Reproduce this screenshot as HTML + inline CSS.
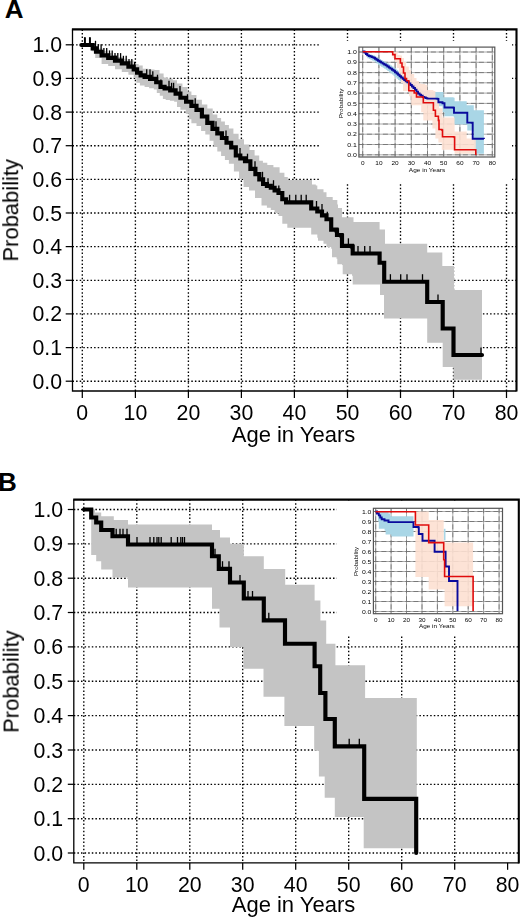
<!DOCTYPE html>
<html><head><meta charset="utf-8"><title>Figure</title>
<style>
html,body{margin:0;padding:0;background:#fff}
body{width:520px;height:918px;overflow:hidden}
svg{display:block;font-family:"Liberation Sans",Arial,sans-serif}
.grid line{stroke:#000;stroke-width:1.35;stroke-dasharray:1.5 2.1}
.tk line{stroke:#000;stroke-width:1.25}
.fr1{fill:none;stroke:#000;stroke-width:1.3}
.fr2{fill:none;stroke:#000;stroke-width:2.1}
.tl text{font-size:21.3px;fill:#000}
.al{font-size:22px;fill:#000}
.pl{font-size:26px;font-weight:bold;fill:#000}
.band{fill:#c4c4c4}
.km{fill:none;stroke:#000;stroke-width:4.15;stroke-linejoin:miter;stroke-linecap:round}
.cn line{stroke:#000;stroke-width:1.3}
.ig line{stroke:#969696;stroke-width:.8}
.ig2 line{stroke:#6c6c6c;stroke-width:.8;stroke-dasharray:5 3}
.ifr{fill:none;stroke:#555;stroke-width:1.2}
.bci{fill:#a9d6e6}
.rci{fill:#fde0d2;fill-opacity:.9}
.bl{fill:none;stroke:#0a0a9c;stroke-width:1.9}
.rd{fill:none;stroke:#e00c0c;stroke-width:1.6}
.il text{fill:#000}
</style></head><body>
<svg width="520" height="918" viewBox="0 0 520 918">
<rect width="520" height="918" fill="#fff"/>
<!-- Panel A -->
<g opacity=".999"><text class="pl" x="4.7" y="17.9">A</text></g>
<g class="grid"><line x1="82.3" y1="29.4" x2="82.3" y2="391.0"/><line x1="135.4" y1="29.4" x2="135.4" y2="391.0"/><line x1="188.4" y1="29.4" x2="188.4" y2="391.0"/><line x1="241.4" y1="29.4" x2="241.4" y2="391.0"/><line x1="294.4" y1="29.4" x2="294.4" y2="391.0"/><line x1="347.5" y1="29.4" x2="347.5" y2="391.0"/><line x1="400.5" y1="29.4" x2="400.5" y2="391.0"/><line x1="453.5" y1="29.4" x2="453.5" y2="391.0"/><line x1="506.5" y1="29.4" x2="506.5" y2="391.0"/><line x1="72.5" y1="44.8" x2="516.5" y2="44.8"/><line x1="72.5" y1="78.4" x2="516.5" y2="78.4"/><line x1="72.5" y1="112.1" x2="516.5" y2="112.1"/><line x1="72.5" y1="145.7" x2="516.5" y2="145.7"/><line x1="72.5" y1="179.4" x2="516.5" y2="179.4"/><line x1="72.5" y1="213.0" x2="516.5" y2="213.0"/><line x1="72.5" y1="246.6" x2="516.5" y2="246.6"/><line x1="72.5" y1="280.3" x2="516.5" y2="280.3"/><line x1="72.5" y1="313.9" x2="516.5" y2="313.9"/><line x1="72.5" y1="347.6" x2="516.5" y2="347.6"/><line x1="72.5" y1="381.2" x2="516.5" y2="381.2"/></g>
<polygon class="band" points="91.5,45.0 93.6,45.0 93.6,46.8 95.8,46.8 97.9,46.8 97.9,48.5 100.0,48.5 102.5,48.5 102.5,50.8 105.0,50.8 107.5,50.8 107.5,53.0 110.0,53.0 112.5,53.0 112.5,55.0 115.0,55.0 117.5,55.0 117.5,57.0 120.0,57.0 122.5,57.0 122.5,58.8 125.0,58.8 127.5,58.8 127.5,60.5 130.0,60.5 133.6,60.5 133.6,63.9 137.2,63.9 138.6,63.9 138.6,65.4 140.0,65.4 142.7,65.4 142.7,68.7 145.4,68.7 148.4,68.7 148.4,69.4 151.4,69.4 154.5,69.4 154.5,70.1 157.5,70.1 159.5,70.1 159.5,73.5 161.5,73.5 163.6,73.5 163.6,77.5 165.6,77.5 167.9,77.5 167.9,78.8 170.3,78.8 172.7,78.8 172.7,80.2 175.0,80.2 177.0,80.2 177.0,83.6 179.0,83.6 182.4,83.6 182.4,86.9 185.8,86.9 187.4,86.9 187.4,91.6 189.1,91.6 191.4,91.6 191.4,95.0 193.8,95.0 196.5,95.0 196.5,99.7 199.2,99.7 201.9,99.7 201.9,104.4 204.6,104.4 207.3,104.4 207.3,108.5 210.0,108.5 212.7,108.5 212.7,114.6 215.4,114.6 217.3,114.6 217.3,118.0 219.2,118.0 221.1,118.0 221.1,121.5 223.0,121.5 224.9,121.5 224.9,125.0 226.9,125.0 228.9,125.0 228.9,128.5 230.8,128.5 233.4,128.5 233.4,133.8 236.0,133.8 238.6,133.8 238.6,139.2 241.2,139.2 244.0,139.2 244.0,144.6 246.8,144.6 249.5,144.6 249.5,150.0 252.3,150.0 254.6,150.0 254.6,155.4 256.9,155.4 259.2,155.4 259.2,160.8 261.5,160.8 262.9,160.8 262.9,162.7 264.2,162.7 267.3,162.7 267.3,165.0 270.4,165.0 273.4,165.0 273.4,167.3 276.5,167.3 279.6,167.3 279.6,172.7 282.7,172.7 284.4,172.7 284.4,177.0 286.0,177.0 287.8,177.0 287.8,180.0 289.6,180.0 311.2,180.0 312.0,180.0 312.0,184.6 315.8,184.6 315.8,185.4 317.3,185.4 317.3,189.2 323.5,189.2 323.5,192.3 326.5,192.3 326.5,197.0 332.7,197.0 332.7,200.0 337.3,200.0 337.3,204.6 338.0,204.6 338.0,208.0 342.0,208.0 342.0,217.3 353.5,217.3 353.5,222.0 379.6,222.0 379.6,229.6 385.0,229.6 385.0,243.7 427.2,243.7 427.2,252.5 442.3,252.5 442.3,266.0 454.0,266.0 454.0,290.0 482.0,290.0 482.0,379.7 482.0,379.7 453.5,379.7 453.5,367.0 442.7,367.0 442.7,342.8 427.2,342.8 427.2,318.5 384.0,318.5 384.0,295.0 380.0,295.0 380.0,284.5 352.7,284.5 352.7,275.8 352.0,275.8 352.0,274.2 342.7,274.2 342.7,265.0 342.0,265.0 342.0,264.2 337.3,264.2 337.3,258.8 336.5,258.8 336.5,257.3 332.0,257.3 332.0,248.8 331.2,248.8 331.2,247.0 326.5,247.0 326.5,243.8 323.5,243.8 323.5,240.8 318.0,240.8 318.0,237.7 317.3,237.7 317.3,234.6 311.2,234.6 311.2,227.7 309.6,227.7 290.4,227.7 287.3,227.7 287.3,223.8 284.2,223.8 282.3,223.8 282.3,216.0 280.4,216.0 278.5,216.0 278.5,213.0 276.5,213.0 274.6,213.0 274.6,210.0 272.7,210.0 270.8,210.0 270.8,207.7 268.9,207.7 266.9,207.7 266.9,205.4 265.0,205.4 261.5,205.4 261.5,198.0 258.0,198.0 255.0,198.0 255.0,190.4 252.0,190.4 249.0,190.4 249.0,187.0 246.0,187.0 243.6,187.0 243.6,179.0 241.2,179.0 239.1,179.0 239.1,171.5 237.0,171.5 233.9,171.5 233.9,163.8 230.8,163.8 228.9,163.8 228.9,159.9 226.9,159.9 224.9,159.9 224.9,156.0 223.0,156.0 221.1,156.0 221.1,151.5 219.2,151.5 217.3,151.5 217.3,147.0 215.4,147.0 213.5,147.0 213.5,140.8 211.6,140.8 209.6,140.8 209.6,134.6 207.7,134.6 205.3,134.6 205.3,131.0 203.0,131.0 201.1,131.0 201.1,126.0 199.2,126.0 196.5,126.0 196.5,123.3 193.8,123.3 191.4,123.3 191.4,119.2 189.1,119.2 188.8,119.2 188.8,113.8 188.5,113.8 185.8,113.8 185.8,109.8 183.1,109.8 180.4,109.8 180.4,107.1 177.7,107.1 177.0,107.1 177.0,101.7 176.3,101.7 174.2,101.7 174.2,100.8 172.1,100.8 169.9,100.8 169.9,99.9 167.8,99.9 165.7,99.9 165.7,99.0 163.6,99.0 162.9,99.0 162.9,95.7 162.2,95.7 159.8,95.7 159.8,93.0 157.5,93.0 156.8,93.0 156.8,89.6 156.2,89.6 153.8,89.6 153.8,88.2 151.4,88.2 149.1,88.2 149.1,86.9 146.7,86.9 144.6,86.9 144.6,85.5 142.6,85.5 139.9,85.5 139.9,82.8 137.2,82.8 136.4,82.8 136.4,78.0 135.6,78.0 133.7,78.0 133.7,74.7 131.8,74.7 128.4,74.7 128.4,72.0 125.1,72.0 121.8,72.0 121.8,69.3 118.4,69.3 115.0,69.3 115.0,66.0 111.6,66.0 108.2,66.0 108.2,63.9 104.9,63.9 101.6,63.9 101.6,57.9 98.2,57.9 95.2,57.9 95.2,51.2 92.1,51.2 91.8,51.2 91.8,45.0 91.5,45.0"/>
<g class="cn"><line x1="84.7" y1="37.5" x2="84.7" y2="45.0"/><line x1="89.8" y1="37.5" x2="89.8" y2="45.0"/><line x1="95.5" y1="40.8" x2="95.5" y2="48.3"/><line x1="98.3" y1="44.2" x2="98.3" y2="51.7"/><line x1="101.1" y1="44.2" x2="101.1" y2="51.7"/><line x1="103.9" y1="47.9" x2="103.9" y2="55.4"/><line x1="106.7" y1="47.9" x2="106.7" y2="55.4"/><line x1="109.5" y1="50.4" x2="109.5" y2="57.9"/><line x1="112.2" y1="50.4" x2="112.2" y2="57.9"/><line x1="115.0" y1="53.1" x2="115.0" y2="60.6"/><line x1="117.8" y1="53.1" x2="117.8" y2="60.6"/><line x1="120.6" y1="53.1" x2="120.6" y2="60.6"/><line x1="123.4" y1="55.8" x2="123.4" y2="63.3"/><line x1="126.2" y1="55.8" x2="126.2" y2="63.3"/><line x1="129.0" y1="59.1" x2="129.0" y2="66.6"/><line x1="131.8" y1="59.1" x2="131.8" y2="66.6"/><line x1="134.6" y1="61.8" x2="134.6" y2="69.3"/><line x1="146.7" y1="69.3" x2="146.7" y2="76.8"/><line x1="150.0" y1="69.3" x2="150.0" y2="76.8"/><line x1="152.8" y1="71.3" x2="152.8" y2="78.8"/><line x1="157.5" y1="74.7" x2="157.5" y2="82.2"/><line x1="160.9" y1="79.4" x2="160.9" y2="86.9"/><line x1="169.0" y1="80.8" x2="169.0" y2="88.3"/><line x1="171.6" y1="82.8" x2="171.6" y2="90.3"/><line x1="173.6" y1="82.8" x2="173.6" y2="90.3"/><line x1="180.0" y1="86.1" x2="180.0" y2="93.6"/><line x1="187.5" y1="94.2" x2="187.5" y2="101.7"/><line x1="195.2" y1="98.3" x2="195.2" y2="105.8"/><line x1="208.0" y1="115.3" x2="208.0" y2="122.8"/><line x1="216.0" y1="121.3" x2="216.0" y2="128.8"/><line x1="226.0" y1="130.5" x2="226.0" y2="138.0"/><line x1="240.0" y1="148.0" x2="240.0" y2="155.5"/><line x1="247.5" y1="153.7" x2="247.5" y2="161.2"/><line x1="255.0" y1="161.3" x2="255.0" y2="168.8"/><line x1="262.5" y1="171.8" x2="262.5" y2="179.3"/><line x1="268.0" y1="178.3" x2="268.0" y2="185.8"/><line x1="273.5" y1="180.2" x2="273.5" y2="187.7"/><line x1="278.8" y1="185.5" x2="278.8" y2="193.0"/><line x1="289.6" y1="194.8" x2="289.6" y2="202.3"/><line x1="295.8" y1="194.8" x2="295.8" y2="202.3"/><line x1="301.2" y1="194.8" x2="301.2" y2="202.3"/><line x1="306.2" y1="194.8" x2="306.2" y2="202.3"/><line x1="316.5" y1="201.0" x2="316.5" y2="208.5"/><line x1="322.0" y1="204.0" x2="322.0" y2="211.5"/><line x1="327.3" y1="211.7" x2="327.3" y2="219.2"/><line x1="348.4" y1="238.3" x2="348.4" y2="245.8"/><line x1="358.0" y1="246.0" x2="358.0" y2="253.5"/><line x1="364.7" y1="246.0" x2="364.7" y2="253.5"/><line x1="370.0" y1="246.0" x2="370.0" y2="253.5"/><line x1="390.4" y1="274.2" x2="390.4" y2="281.7"/><line x1="400.7" y1="274.2" x2="400.7" y2="281.7"/><line x1="407.0" y1="274.2" x2="407.0" y2="281.7"/><line x1="422.5" y1="274.2" x2="422.5" y2="281.7"/><line x1="438.0" y1="294.5" x2="438.0" y2="302.0"/><line x1="481.0" y1="347.5" x2="481.0" y2="355.0"/></g>
<g class="cn" style="stroke-width:1.9"><line x1="84.9" y1="37.3" x2="84.9" y2="45" style="stroke-width:1.9"/><line x1="89.9" y1="37.3" x2="89.9" y2="45" style="stroke-width:1.9"/></g>
<polyline class="km" points="81.4,45.0 91.5,45.0 92.7,45.0 92.7,48.3 93.8,48.3 96.0,48.3 96.0,51.7 98.2,51.7 101.6,51.7 101.6,55.4 104.9,55.4 108.2,55.4 108.2,57.9 111.6,57.9 115.0,57.9 115.0,60.6 118.4,60.6 121.8,60.6 121.8,63.3 125.1,63.3 128.4,63.3 128.4,66.6 131.8,66.6 133.7,66.6 133.7,69.3 135.6,69.3 137.1,69.3 137.1,72.7 138.6,72.7 140.6,72.7 140.6,75.4 142.6,75.4 144.6,75.4 144.6,76.8 146.7,76.8 150.1,76.8 150.1,78.8 153.5,78.8 156.2,78.8 156.2,82.2 158.8,82.2 160.5,82.2 160.5,86.9 162.2,86.9 164.6,86.9 164.6,88.3 166.9,88.3 170.2,88.3 170.2,90.3 173.6,90.3 175.6,90.3 175.6,93.6 177.7,93.6 180.4,93.6 180.4,97.7 183.1,97.7 186.1,97.7 186.1,101.7 189.1,101.7 191.4,101.7 191.4,105.8 193.8,105.8 196.5,105.8 196.5,109.8 199.2,109.8 201.9,109.8 201.9,116.5 204.6,116.5 207.3,116.5 207.3,122.8 210.0,122.8 212.5,122.8 212.5,128.8 215.0,128.8 217.3,128.8 217.3,133.4 219.6,133.4 221.9,133.4 221.9,138.0 224.2,138.0 226.5,138.0 226.5,142.7 228.8,142.7 231.2,142.7 231.2,147.3 233.5,147.3 235.8,147.3 235.8,155.5 238.0,155.5 240.3,155.5 240.3,158.3 242.7,158.3 245.0,158.3 245.0,161.2 247.3,161.2 250.4,161.2 250.4,168.8 253.5,168.8 255.4,168.8 255.4,174.1 257.4,174.1 259.3,174.1 259.3,179.3 261.2,179.3 263.1,179.3 263.1,184.0 265.0,184.0 266.9,184.0 266.9,185.8 268.9,185.8 270.8,185.8 270.8,187.7 272.7,187.7 274.6,187.7 274.6,190.3 276.5,190.3 278.5,190.3 278.5,193.0 280.4,193.0 282.3,193.0 282.3,199.2 284.2,199.2 286.1,199.2 286.1,202.3 288.0,202.3 311.2,202.3 311.2,208.5 317.3,208.5 317.3,211.5 322.0,211.5 322.0,215.4 326.5,215.4 326.5,219.2 331.2,219.2 331.2,220.4 331.2,229.6 336.5,229.6 336.5,230.4 337.0,230.4 337.0,235.0 341.6,235.0 341.6,235.8 342.0,235.8 342.0,245.8 352.0,245.8 352.0,246.5 352.7,246.5 352.7,253.5 379.6,253.5 379.6,262.7 384.2,262.7 384.2,281.7 427.2,281.7 427.2,302.0 442.7,302.0 442.7,328.5 453.5,328.5 453.5,355.0 482.0,355.0"/>
<rect x="320.0" y="41.0" width="192.0" height="141.0" fill="#fff"/>
<g class="ig"><line x1="362.7" y1="47.1" x2="362.7" y2="157.0"/><line x1="378.9" y1="47.1" x2="378.9" y2="157.0"/><line x1="395.1" y1="47.1" x2="395.1" y2="157.0"/><line x1="411.3" y1="47.1" x2="411.3" y2="157.0"/><line x1="427.5" y1="47.1" x2="427.5" y2="157.0"/><line x1="443.7" y1="47.1" x2="443.7" y2="157.0"/><line x1="459.9" y1="47.1" x2="459.9" y2="157.0"/><line x1="476.1" y1="47.1" x2="476.1" y2="157.0"/><line x1="492.3" y1="47.1" x2="492.3" y2="157.0"/><line x1="358.9" y1="52.0" x2="494.8" y2="52.0"/><line x1="358.9" y1="62.3" x2="494.8" y2="62.3"/><line x1="358.9" y1="72.6" x2="494.8" y2="72.6"/><line x1="358.9" y1="82.8" x2="494.8" y2="82.8"/><line x1="358.9" y1="93.1" x2="494.8" y2="93.1"/><line x1="358.9" y1="103.4" x2="494.8" y2="103.4"/><line x1="358.9" y1="113.7" x2="494.8" y2="113.7"/><line x1="358.9" y1="124.0" x2="494.8" y2="124.0"/><line x1="358.9" y1="134.2" x2="494.8" y2="134.2"/><line x1="358.9" y1="144.5" x2="494.8" y2="144.5"/><line x1="358.9" y1="154.8" x2="494.8" y2="154.8"/></g>
<g class="ig ig2"><line x1="362.7" y1="47.1" x2="362.7" y2="157.0"/><line x1="378.9" y1="47.1" x2="378.9" y2="157.0"/><line x1="395.1" y1="47.1" x2="395.1" y2="157.0"/><line x1="411.3" y1="47.1" x2="411.3" y2="157.0"/><line x1="427.5" y1="47.1" x2="427.5" y2="157.0"/><line x1="443.7" y1="47.1" x2="443.7" y2="157.0"/><line x1="459.9" y1="47.1" x2="459.9" y2="157.0"/><line x1="476.1" y1="47.1" x2="476.1" y2="157.0"/><line x1="492.3" y1="47.1" x2="492.3" y2="157.0"/><line x1="358.9" y1="52.0" x2="494.8" y2="52.0"/><line x1="358.9" y1="62.3" x2="494.8" y2="62.3"/><line x1="358.9" y1="72.6" x2="494.8" y2="72.6"/><line x1="358.9" y1="82.8" x2="494.8" y2="82.8"/><line x1="358.9" y1="93.1" x2="494.8" y2="93.1"/><line x1="358.9" y1="103.4" x2="494.8" y2="103.4"/><line x1="358.9" y1="113.7" x2="494.8" y2="113.7"/><line x1="358.9" y1="124.0" x2="494.8" y2="124.0"/><line x1="358.9" y1="134.2" x2="494.8" y2="134.2"/><line x1="358.9" y1="144.5" x2="494.8" y2="144.5"/><line x1="358.9" y1="154.8" x2="494.8" y2="154.8"/></g>
<polygon class="bci" points="362.7,51.5 364.2,51.5 364.2,52.2 365.8,52.2 365.8,52.8 367.3,52.8 367.3,53.5 368.9,53.5 368.9,54.0 370.4,54.0 370.4,54.5 371.9,54.5 371.9,55.0 373.5,55.0 373.5,55.5 375.0,55.5 375.0,56.4 376.5,56.4 376.5,57.4 378.0,57.4 378.0,58.3 379.6,58.3 379.6,59.2 381.1,59.2 381.1,60.0 382.7,60.0 382.7,60.9 384.2,60.9 384.2,61.7 385.8,61.7 385.8,62.6 387.3,62.6 387.3,63.6 388.9,63.6 388.9,64.6 390.4,64.6 390.4,65.6 392.0,65.6 392.0,66.6 393.5,66.6 393.5,67.6 395.0,67.6 395.0,68.8 396.6,68.8 396.6,70.0 398.1,70.0 398.1,71.3 399.6,71.3 399.6,72.5 401.1,72.5 401.1,73.7 402.7,73.7 402.7,74.8 404.2,74.8 404.2,76.0 405.7,76.0 405.7,77.0 407.3,77.0 407.3,78.0 408.8,78.0 408.8,79.0 410.4,79.0 410.4,80.3 411.9,80.3 411.9,81.7 413.5,81.7 413.5,83.0 415.0,83.0 415.0,84.5 416.5,84.5 416.5,86.0 418.0,86.0 418.0,87.5 419.6,87.5 419.6,88.5 421.1,88.5 421.1,89.5 422.7,89.5 422.7,90.5 424.2,90.5 424.2,90.8 425.8,90.8 425.8,91.2 427.3,91.2 427.3,91.5 428.8,91.5 428.8,91.6 430.4,91.6 430.4,91.8 431.9,91.8 431.9,91.9 433.4,91.9 433.4,92.0 438.4,92.0 443.5,92.0 443.5,97.2 453.6,97.2 453.6,97.8 454.6,97.8 454.6,101.2 465.7,101.2 466.7,101.2 466.7,105.2 472.7,105.2 473.8,105.2 473.8,110.3 483.9,110.3 483.9,153.7 483.9,153.7 475.8,153.7 475.8,150.7 473.8,150.7 473.8,131.5 472.7,131.5 472.7,130.5 467.3,130.5 467.3,124.8 466.7,124.8 466.7,124.4 454.0,124.4 454.0,116.8 453.6,116.8 453.6,116.3 444.5,116.3 444.5,112.3 442.5,112.3 442.5,106.3 438.4,106.3 438.4,106.0 437.4,106.0 437.4,105.9 435.7,105.9 435.7,105.8 434.0,105.8 434.0,105.8 432.4,105.8 432.4,105.7 430.7,105.7 430.7,105.6 429.0,105.6 429.0,105.5 427.3,105.5 427.3,104.8 425.8,104.8 425.8,104.2 424.2,104.2 424.2,103.5 422.7,103.5 422.7,102.0 421.1,102.0 421.1,100.5 419.6,100.5 419.6,99.0 418.0,99.0 418.0,97.0 416.5,97.0 416.5,95.0 415.0,95.0 415.0,93.0 413.5,93.0 413.5,91.7 411.9,91.7 411.9,90.3 410.4,90.3 410.4,89.0 408.8,89.0 408.8,87.8 407.3,87.8 407.3,86.7 405.7,86.7 405.7,85.5 404.2,85.5 404.2,84.2 402.7,84.2 402.7,82.8 401.1,82.8 401.1,81.5 399.6,81.5 399.6,80.1 398.1,80.1 398.1,78.7 396.6,78.7 396.6,77.2 395.0,77.2 395.0,75.8 393.5,75.8 393.5,74.6 392.0,74.6 392.0,73.4 390.4,73.4 390.4,72.2 388.9,72.2 388.9,71.0 387.3,71.0 387.3,69.8 385.8,69.8 385.8,68.8 384.2,68.8 384.2,67.8 382.7,67.8 382.7,66.8 381.1,66.8 381.1,65.8 379.6,65.8 379.6,64.8 378.0,64.8 378.0,63.6 376.5,63.6 376.5,62.5 375.0,62.5 375.0,61.3 373.5,61.3 373.5,60.5 371.9,60.5 371.9,59.8 370.4,59.8 370.4,59.0 368.9,59.0 368.9,58.3 367.3,58.3 367.3,56.0 365.8,56.0 365.8,53.8 364.2,53.8 364.2,51.5 362.7,51.5"/>
<polygon class="rci" points="392.7,51.8 396.0,51.8 397.5,51.8 397.5,55.0 400.4,55.0 400.4,55.5 402.0,55.5 402.0,58.0 404.0,58.0 404.0,62.0 406.0,62.0 406.0,66.5 408.8,66.5 408.8,70.0 411.0,70.0 411.0,74.0 414.2,74.0 414.2,78.0 416.5,78.0 416.5,81.0 419.0,81.0 419.0,83.5 421.2,83.5 421.2,84.0 425.3,84.0 425.3,85.0 427.3,85.0 427.3,90.0 433.4,90.0 433.4,91.0 435.4,91.0 435.4,100.2 438.4,100.2 438.4,101.2 439.0,101.2 439.0,108.3 441.8,108.3 442.5,108.3 442.5,117.4 453.6,117.4 454.6,117.4 454.6,131.5 465.7,131.5 466.7,131.5 466.7,138.6 474.8,138.6 475.8,138.6 475.8,149.7 475.8,153.7 454.6,153.7 454.6,150.7 453.6,150.7 453.6,149.7 441.8,149.7 441.8,142.6 438.4,142.6 438.4,138.6 435.4,138.6 435.4,128.5 432.4,128.5 432.4,120.4 423.3,120.4 423.3,112.3 421.2,112.3 421.2,105.2 411.2,105.2 411.2,96.2 409.1,96.2 409.1,91.0 403.0,91.0 403.0,83.0 401.0,83.0 401.0,75.0 399.0,75.0 399.0,68.0 397.0,68.0 397.0,62.0 395.0,62.0 395.0,58.0 392.7,58.0 392.7,51.8"/>
<rect class="ifr" x="358.9" y="47.1" width="135.9" height="109.9"/>
<polyline class="bl" points="362.7,51.5 364.5,51.5 364.5,52.5 365.9,52.5 365.9,54.0 367.3,54.0 367.3,55.4 368.9,55.4 368.9,56.0 370.4,56.0 370.4,56.5 371.9,56.5 371.9,57.1 373.5,57.1 373.5,57.7 375.0,57.7 375.0,58.7 376.5,58.7 376.5,59.8 378.0,59.8 378.0,60.8 379.6,60.8 379.6,61.7 381.1,61.7 381.1,62.6 382.7,62.6 382.7,63.6 384.2,63.6 384.2,64.5 385.8,64.5 385.8,65.4 387.3,65.4 387.3,66.5 388.9,66.5 388.9,67.6 390.4,67.6 390.4,68.6 392.0,68.6 392.0,69.7 393.5,69.7 393.5,70.8 395.0,70.8 395.0,72.2 396.6,72.2 396.6,73.5 398.1,73.5 398.1,74.8 399.6,74.8 399.6,76.2 401.1,76.2 401.1,77.5 402.7,77.5 402.7,78.7 404.2,78.7 404.2,80.0 405.7,80.0 405.7,81.2 407.3,81.2 407.3,82.3 408.8,82.3 408.8,83.5 410.4,83.5 410.4,85.0 411.9,85.0 411.9,86.5 413.5,86.5 413.5,88.0 415.0,88.0 415.0,89.8 416.5,89.8 416.5,91.7 418.0,91.7 418.0,93.5 419.6,93.5 419.6,94.7 421.1,94.7 421.1,95.8 422.7,95.8 422.7,97.0 424.2,97.0 424.2,97.5 425.8,97.5 425.8,98.1 427.3,98.1 427.3,98.6 437.4,98.6 437.4,98.9 438.4,98.9 438.4,102.2 442.5,102.2 442.5,103.2 444.5,103.2 444.5,107.5 453.6,107.5 453.6,107.9 454.0,107.9 454.0,112.7 466.7,112.7 467.3,112.7 467.3,122.6 471.7,122.6 471.7,122.8 472.7,122.8 472.7,138.8 483.9,138.8 483.9,139.0"/>
<polyline class="rd" points="362.7,51.8 392.7,51.8 392.7,54.6 395.0,54.6 395.0,58.8 400.4,58.8 400.4,63.0 402.0,63.0 402.0,67.0 403.5,67.0 403.5,73.0 405.0,73.0 405.0,78.5 406.5,78.5 406.5,80.8 408.8,80.8 408.8,90.8 414.2,90.8 414.2,93.0 416.5,93.0 416.5,97.0 423.3,97.0 423.3,102.8 432.4,102.8 433.4,102.8 433.4,110.3 435.4,110.3 435.4,116.3 438.4,116.3 438.4,120.4 439.0,120.4 439.0,129.5 441.8,129.5 441.8,130.0 442.5,130.0 442.5,136.7 453.6,136.7 453.6,137.0 454.6,137.0 454.6,149.7 475.8,149.7 475.8,155.0"/>
<g class="il" opacity=".999" font-size="5.8"><text transform="translate(362.7 165.4) scale(1.12 1)" text-anchor="middle">0</text><text transform="translate(378.9 165.4) scale(1.12 1)" text-anchor="middle">10</text><text transform="translate(395.1 165.4) scale(1.12 1)" text-anchor="middle">20</text><text transform="translate(411.3 165.4) scale(1.12 1)" text-anchor="middle">30</text><text transform="translate(427.5 165.4) scale(1.12 1)" text-anchor="middle">40</text><text transform="translate(443.7 165.4) scale(1.12 1)" text-anchor="middle">50</text><text transform="translate(459.9 165.4) scale(1.12 1)" text-anchor="middle">60</text><text transform="translate(476.1 165.4) scale(1.12 1)" text-anchor="middle">70</text><text transform="translate(492.3 165.4) scale(1.12 1)" text-anchor="middle">80</text><text transform="translate(356.9 54.1) scale(1.2 1)" text-anchor="end">1.0</text><text transform="translate(356.9 64.4) scale(1.2 1)" text-anchor="end">0.9</text><text transform="translate(356.9 74.7) scale(1.2 1)" text-anchor="end">0.8</text><text transform="translate(356.9 84.9) scale(1.2 1)" text-anchor="end">0.7</text><text transform="translate(356.9 95.2) scale(1.2 1)" text-anchor="end">0.6</text><text transform="translate(356.9 105.5) scale(1.2 1)" text-anchor="end">0.5</text><text transform="translate(356.9 115.8) scale(1.2 1)" text-anchor="end">0.4</text><text transform="translate(356.9 126.1) scale(1.2 1)" text-anchor="end">0.3</text><text transform="translate(356.9 136.3) scale(1.2 1)" text-anchor="end">0.2</text><text transform="translate(356.9 146.6) scale(1.2 1)" text-anchor="end">0.1</text><text transform="translate(356.9 156.9) scale(1.2 1)" text-anchor="end">0.0</text><text transform="translate(427.0 171.6) scale(1.12 1)" text-anchor="middle">Age in Years</text><text transform="translate(343.1 103.4) rotate(-90) scale(1.1 1)" text-anchor="middle">Probability</text></g>
<g class="tk"><line x1="82.3" y1="391.0" x2="82.3" y2="398.0"/><line x1="135.4" y1="391.0" x2="135.4" y2="398.0"/><line x1="188.4" y1="391.0" x2="188.4" y2="398.0"/><line x1="241.4" y1="391.0" x2="241.4" y2="398.0"/><line x1="294.4" y1="391.0" x2="294.4" y2="398.0"/><line x1="347.5" y1="391.0" x2="347.5" y2="398.0"/><line x1="400.5" y1="391.0" x2="400.5" y2="398.0"/><line x1="453.5" y1="391.0" x2="453.5" y2="398.0"/><line x1="506.5" y1="391.0" x2="506.5" y2="398.0"/><line x1="65.7" y1="44.8" x2="72.5" y2="44.8"/><line x1="65.7" y1="78.4" x2="72.5" y2="78.4"/><line x1="65.7" y1="112.1" x2="72.5" y2="112.1"/><line x1="65.7" y1="145.7" x2="72.5" y2="145.7"/><line x1="65.7" y1="179.4" x2="72.5" y2="179.4"/><line x1="65.7" y1="213.0" x2="72.5" y2="213.0"/><line x1="65.7" y1="246.6" x2="72.5" y2="246.6"/><line x1="65.7" y1="280.3" x2="72.5" y2="280.3"/><line x1="65.7" y1="313.9" x2="72.5" y2="313.9"/><line x1="65.7" y1="347.6" x2="72.5" y2="347.6"/><line x1="65.7" y1="381.2" x2="72.5" y2="381.2"/></g>
<path class="fr1" d="M72.5 29.4V391.0H516.5"/>
<path class="fr2" d="M71.9 29.4H516.5V391.6"/>
<g class="tl" opacity=".999"><text x="82.3" y="419.8" text-anchor="middle">0</text><text x="135.4" y="419.8" text-anchor="middle">10</text><text x="188.4" y="419.8" text-anchor="middle">20</text><text x="241.4" y="419.8" text-anchor="middle">30</text><text x="294.4" y="419.8" text-anchor="middle">40</text><text x="347.5" y="419.8" text-anchor="middle">50</text><text x="400.5" y="419.8" text-anchor="middle">60</text><text x="453.5" y="419.8" text-anchor="middle">70</text><text x="506.5" y="419.8" text-anchor="middle">80</text><text x="62.0" y="52.3" text-anchor="end">1.0</text><text x="62.0" y="85.9" text-anchor="end">0.9</text><text x="62.0" y="119.6" text-anchor="end">0.8</text><text x="62.0" y="153.2" text-anchor="end">0.7</text><text x="62.0" y="186.9" text-anchor="end">0.6</text><text x="62.0" y="220.5" text-anchor="end">0.5</text><text x="62.0" y="254.1" text-anchor="end">0.4</text><text x="62.0" y="287.8" text-anchor="end">0.3</text><text x="62.0" y="321.4" text-anchor="end">0.2</text><text x="62.0" y="355.1" text-anchor="end">0.1</text><text x="62.0" y="388.7" text-anchor="end">0.0</text></g>
<g opacity=".999"><text class="al" x="293.5" y="441.5" text-anchor="middle">Age in Years</text>
<text class="al" transform="translate(18.2 210.3) rotate(-90)" text-anchor="middle">Probability</text></g>
<!-- Panel B -->
<g opacity=".999"><text class="pl" x="-2" y="491.4">B</text></g>
<g class="grid"><line x1="83.8" y1="499.6" x2="83.8" y2="862.8"/><line x1="136.8" y1="499.6" x2="136.8" y2="862.8"/><line x1="189.8" y1="499.6" x2="189.8" y2="862.8"/><line x1="242.7" y1="499.6" x2="242.7" y2="862.8"/><line x1="295.7" y1="499.6" x2="295.7" y2="862.8"/><line x1="348.7" y1="499.6" x2="348.7" y2="862.8"/><line x1="401.7" y1="499.6" x2="401.7" y2="862.8"/><line x1="454.7" y1="499.6" x2="454.7" y2="862.8"/><line x1="73.8" y1="509.5" x2="518.8" y2="509.5"/><line x1="73.8" y1="543.9" x2="518.8" y2="543.9"/><line x1="73.8" y1="578.2" x2="518.8" y2="578.2"/><line x1="73.8" y1="612.5" x2="518.8" y2="612.5"/><line x1="73.8" y1="646.9" x2="518.8" y2="646.9"/><line x1="73.8" y1="681.2" x2="518.8" y2="681.2"/><line x1="73.8" y1="715.6" x2="518.8" y2="715.6"/><line x1="73.8" y1="750.0" x2="518.8" y2="750.0"/><line x1="73.8" y1="784.3" x2="518.8" y2="784.3"/><line x1="73.8" y1="818.7" x2="518.8" y2="818.7"/><line x1="73.8" y1="853.0" x2="518.8" y2="853.0"/></g>
<polygon class="band" points="91.2,509.5 95.0,509.5 95.0,512.5 101.2,512.5 101.2,516.2 113.8,516.2 113.8,520.0 128.0,520.0 128.0,524.5 212.0,524.5 212.0,530.0 220.0,530.0 220.0,537.5 230.0,537.5 230.0,543.8 243.8,543.8 243.8,556.2 263.8,556.2 263.8,569.0 285.2,569.0 285.2,584.7 314.6,584.7 314.6,600.4 320.4,600.4 320.4,620.6 326.2,620.6 326.2,643.7 335.4,643.7 335.4,665.3 365.1,665.3 365.1,697.9 416.8,697.9 416.8,848.3 416.8,848.3 363.7,848.3 363.7,817.0 334.8,817.0 334.8,797.7 324.7,797.7 324.7,776.6 318.9,776.6 318.9,750.7 314.2,750.7 314.2,726.0 284.4,726.0 284.4,696.7 263.5,696.7 263.5,668.8 243.4,668.8 243.4,647.0 230.0,647.0 230.0,627.5 219.5,627.5 219.5,608.8 212.0,608.8 212.0,587.5 128.0,587.5 128.0,577.5 112.5,577.5 112.5,569.5 101.2,569.5 101.2,561.2 96.2,561.2 96.2,555.0 91.2,555.0 91.2,509.5"/>
<g class="cn"><line x1="116.2" y1="528.8" x2="116.2" y2="536.2"/><line x1="120.0" y1="528.8" x2="120.0" y2="536.2"/><line x1="123.0" y1="528.8" x2="123.0" y2="536.2"/><line x1="127.0" y1="528.8" x2="127.0" y2="536.2"/><line x1="137.0" y1="537.0" x2="137.0" y2="544.5"/><line x1="150.0" y1="537.0" x2="150.0" y2="544.5"/><line x1="153.8" y1="537.0" x2="153.8" y2="544.5"/><line x1="157.0" y1="537.0" x2="157.0" y2="544.5"/><line x1="158.8" y1="537.0" x2="158.8" y2="544.5"/><line x1="161.2" y1="537.0" x2="161.2" y2="544.5"/><line x1="171.2" y1="537.0" x2="171.2" y2="544.5"/><line x1="177.5" y1="537.0" x2="177.5" y2="544.5"/><line x1="180.8" y1="537.0" x2="180.8" y2="544.5"/><line x1="182.5" y1="537.0" x2="182.5" y2="544.5"/><line x1="184.5" y1="537.0" x2="184.5" y2="544.5"/><line x1="215.0" y1="548.8" x2="215.0" y2="556.2"/><line x1="222.5" y1="561.2" x2="222.5" y2="568.8"/><line x1="229.0" y1="561.2" x2="229.0" y2="568.8"/><line x1="240.0" y1="575.0" x2="240.0" y2="582.5"/><line x1="248.0" y1="591.0" x2="248.0" y2="598.5"/><line x1="252.5" y1="591.0" x2="252.5" y2="598.5"/><line x1="268.8" y1="612.8" x2="268.8" y2="620.3"/><line x1="349.2" y1="738.8" x2="349.2" y2="746.3"/><line x1="359.3" y1="738.8" x2="359.3" y2="746.3"/></g>
<polyline class="km" points="84.0,509.5 91.2,509.5 91.2,517.5 96.2,517.5 96.2,522.5 101.2,522.5 101.2,530.0 112.5,530.0 112.5,536.2 128.0,536.2 128.0,544.5 212.0,544.5 212.0,556.2 218.8,556.2 218.8,568.8 230.0,568.8 230.0,582.5 243.8,582.5 243.8,598.5 263.8,598.5 263.8,620.3 285.0,620.3 285.0,643.7 314.6,643.7 314.6,666.2 320.2,666.2 320.2,693.0 325.4,693.0 325.4,719.0 334.8,719.0 334.8,746.3 364.2,746.3 364.2,798.8 416.2,798.8 416.2,853.0"/>
<rect x="336.5" y="500.5" width="182.0" height="135.5" fill="#fff"/>
<g class="ig"><line x1="375.7" y1="508.3" x2="375.7" y2="613.7"/><line x1="391.1" y1="508.3" x2="391.1" y2="613.7"/><line x1="406.5" y1="508.3" x2="406.5" y2="613.7"/><line x1="422.0" y1="508.3" x2="422.0" y2="613.7"/><line x1="437.4" y1="508.3" x2="437.4" y2="613.7"/><line x1="452.8" y1="508.3" x2="452.8" y2="613.7"/><line x1="468.2" y1="508.3" x2="468.2" y2="613.7"/><line x1="483.6" y1="508.3" x2="483.6" y2="613.7"/><line x1="499.1" y1="508.3" x2="499.1" y2="613.7"/><line x1="373.4" y1="511.5" x2="502.5" y2="511.5"/><line x1="373.4" y1="521.5" x2="502.5" y2="521.5"/><line x1="373.4" y1="531.5" x2="502.5" y2="531.5"/><line x1="373.4" y1="541.5" x2="502.5" y2="541.5"/><line x1="373.4" y1="551.5" x2="502.5" y2="551.5"/><line x1="373.4" y1="561.5" x2="502.5" y2="561.5"/><line x1="373.4" y1="571.5" x2="502.5" y2="571.5"/><line x1="373.4" y1="581.5" x2="502.5" y2="581.5"/><line x1="373.4" y1="591.5" x2="502.5" y2="591.5"/><line x1="373.4" y1="601.5" x2="502.5" y2="601.5"/><line x1="373.4" y1="611.5" x2="502.5" y2="611.5"/></g>
<g class="ig ig2"><line x1="375.7" y1="508.3" x2="375.7" y2="613.7"/><line x1="391.1" y1="508.3" x2="391.1" y2="613.7"/><line x1="406.5" y1="508.3" x2="406.5" y2="613.7"/><line x1="422.0" y1="508.3" x2="422.0" y2="613.7"/><line x1="437.4" y1="508.3" x2="437.4" y2="613.7"/><line x1="452.8" y1="508.3" x2="452.8" y2="613.7"/><line x1="468.2" y1="508.3" x2="468.2" y2="613.7"/><line x1="483.6" y1="508.3" x2="483.6" y2="613.7"/><line x1="499.1" y1="508.3" x2="499.1" y2="613.7"/><line x1="373.4" y1="511.5" x2="502.5" y2="511.5"/><line x1="373.4" y1="521.5" x2="502.5" y2="521.5"/><line x1="373.4" y1="531.5" x2="502.5" y2="531.5"/><line x1="373.4" y1="541.5" x2="502.5" y2="541.5"/><line x1="373.4" y1="551.5" x2="502.5" y2="551.5"/><line x1="373.4" y1="561.5" x2="502.5" y2="561.5"/><line x1="373.4" y1="571.5" x2="502.5" y2="571.5"/><line x1="373.4" y1="581.5" x2="502.5" y2="581.5"/><line x1="373.4" y1="591.5" x2="502.5" y2="591.5"/><line x1="373.4" y1="601.5" x2="502.5" y2="601.5"/><line x1="373.4" y1="611.5" x2="502.5" y2="611.5"/></g>
<polygon class="bci" points="375.6,511.5 388.5,511.5 388.5,513.5 390.4,513.5 390.4,516.3 413.5,516.3 413.5,517.3 413.5,546.0 413.5,537.5 413.5,536.5 391.3,536.5 391.3,534.6 385.6,534.6 385.6,530.8 384.6,530.8 384.6,528.8 378.8,528.8 378.8,521.2 377.9,521.2 377.9,511.5 375.6,511.5"/>
<polygon class="bci" points="443.7,528.8 445.5,528.8 445.5,540.4 443.7,540.4"/>
<polygon class="rci" points="415.4,511.5 428.7,511.5 428.7,520.0 443.7,520.0 443.7,542.5 473.1,542.5 473.1,606.3 444.6,606.3 444.6,589.6 428.7,589.6 428.7,577.0 415.4,577.0"/>
<rect class="ifr" x="373.4" y="508.3" width="129.1" height="105.4"/>
<polyline class="bl" points="375.6,511.5 377.0,511.5 377.0,513.5 378.8,513.5 378.8,515.4 380.2,515.4 380.2,517.5 381.7,517.5 381.7,519.2 384.5,519.2 384.5,520.5 388.5,520.5 388.5,522.1 413.5,522.1 413.5,522.4 413.5,527.0 418.5,527.0 418.5,527.6 418.8,527.6 418.8,534.0 422.5,534.0 422.5,540.7 434.6,540.7 434.6,551.7 445.2,551.7 445.6,551.7 445.6,566.5 448.5,566.5 449.0,566.5 449.0,581.0 457.5,581.0 457.5,611.0"/>
<polyline class="rd" points="375.6,511.7 415.4,511.7 415.4,525.0 428.7,525.0 428.7,542.6 443.7,542.6 443.7,559.8 444.6,559.8 444.6,576.5 473.1,576.5 473.1,611.0"/>
<g class="il" opacity=".999" font-size="5.7"><text transform="translate(375.7 622.1) scale(1.12 1)" text-anchor="middle">0</text><text transform="translate(391.1 622.1) scale(1.12 1)" text-anchor="middle">10</text><text transform="translate(406.5 622.1) scale(1.12 1)" text-anchor="middle">20</text><text transform="translate(422.0 622.1) scale(1.12 1)" text-anchor="middle">30</text><text transform="translate(437.4 622.1) scale(1.12 1)" text-anchor="middle">40</text><text transform="translate(452.8 622.1) scale(1.12 1)" text-anchor="middle">50</text><text transform="translate(468.2 622.1) scale(1.12 1)" text-anchor="middle">60</text><text transform="translate(483.6 622.1) scale(1.12 1)" text-anchor="middle">70</text><text transform="translate(499.1 622.1) scale(1.12 1)" text-anchor="middle">80</text><text transform="translate(371.4 513.6) scale(1.2 1)" text-anchor="end">1.0</text><text transform="translate(371.4 523.6) scale(1.2 1)" text-anchor="end">0.9</text><text transform="translate(371.4 533.6) scale(1.2 1)" text-anchor="end">0.8</text><text transform="translate(371.4 543.6) scale(1.2 1)" text-anchor="end">0.7</text><text transform="translate(371.4 553.6) scale(1.2 1)" text-anchor="end">0.6</text><text transform="translate(371.4 563.6) scale(1.2 1)" text-anchor="end">0.5</text><text transform="translate(371.4 573.6) scale(1.2 1)" text-anchor="end">0.4</text><text transform="translate(371.4 583.6) scale(1.2 1)" text-anchor="end">0.3</text><text transform="translate(371.4 593.6) scale(1.2 1)" text-anchor="end">0.2</text><text transform="translate(371.4 603.6) scale(1.2 1)" text-anchor="end">0.1</text><text transform="translate(371.4 613.6) scale(1.2 1)" text-anchor="end">0.0</text><text transform="translate(436.9 628.3) scale(1.12 1)" text-anchor="middle">Age in Years</text><text transform="translate(357.6 561.5) rotate(-90) scale(1.1 1)" text-anchor="middle">Probability</text></g>
<g class="tk"><line x1="83.8" y1="862.8" x2="83.8" y2="869.8"/><line x1="136.8" y1="862.8" x2="136.8" y2="869.8"/><line x1="189.8" y1="862.8" x2="189.8" y2="869.8"/><line x1="242.7" y1="862.8" x2="242.7" y2="869.8"/><line x1="295.7" y1="862.8" x2="295.7" y2="869.8"/><line x1="348.7" y1="862.8" x2="348.7" y2="869.8"/><line x1="401.7" y1="862.8" x2="401.7" y2="869.8"/><line x1="454.7" y1="862.8" x2="454.7" y2="869.8"/><line x1="507.6" y1="862.8" x2="507.6" y2="869.8"/><line x1="67.8" y1="509.5" x2="73.8" y2="509.5"/><line x1="67.8" y1="543.9" x2="73.8" y2="543.9"/><line x1="67.8" y1="578.2" x2="73.8" y2="578.2"/><line x1="67.8" y1="612.5" x2="73.8" y2="612.5"/><line x1="67.8" y1="646.9" x2="73.8" y2="646.9"/><line x1="67.8" y1="681.2" x2="73.8" y2="681.2"/><line x1="67.8" y1="715.6" x2="73.8" y2="715.6"/><line x1="67.8" y1="750.0" x2="73.8" y2="750.0"/><line x1="67.8" y1="784.3" x2="73.8" y2="784.3"/><line x1="67.8" y1="818.7" x2="73.8" y2="818.7"/><line x1="67.8" y1="853.0" x2="73.8" y2="853.0"/></g>
<path class="fr1" d="M73.8 499.6V862.8H518.8"/>
<path class="fr2" d="M73.2 499.6H518.8V863.4"/>
<g class="tl" opacity=".999"><text x="83.8" y="891.6" text-anchor="middle">0</text><text x="136.8" y="891.6" text-anchor="middle">10</text><text x="189.8" y="891.6" text-anchor="middle">20</text><text x="242.7" y="891.6" text-anchor="middle">30</text><text x="295.7" y="891.6" text-anchor="middle">40</text><text x="348.7" y="891.6" text-anchor="middle">50</text><text x="401.7" y="891.6" text-anchor="middle">60</text><text x="454.7" y="891.6" text-anchor="middle">70</text><text x="507.6" y="891.6" text-anchor="middle">80</text><text x="63.2" y="517.0" text-anchor="end">1.0</text><text x="63.2" y="551.4" text-anchor="end">0.9</text><text x="63.2" y="585.7" text-anchor="end">0.8</text><text x="63.2" y="620.0" text-anchor="end">0.7</text><text x="63.2" y="654.4" text-anchor="end">0.6</text><text x="63.2" y="688.8" text-anchor="end">0.5</text><text x="63.2" y="723.1" text-anchor="end">0.4</text><text x="63.2" y="757.5" text-anchor="end">0.3</text><text x="63.2" y="791.8" text-anchor="end">0.2</text><text x="63.2" y="826.2" text-anchor="end">0.1</text><text x="63.2" y="860.5" text-anchor="end">0.0</text></g>
<g opacity=".999"><text class="al" x="293.5" y="912.4" text-anchor="middle">Age in Years</text>
<text class="al" transform="translate(18.6 681.6) rotate(-90)" text-anchor="middle">Probability</text></g>
</svg>
</body></html>
